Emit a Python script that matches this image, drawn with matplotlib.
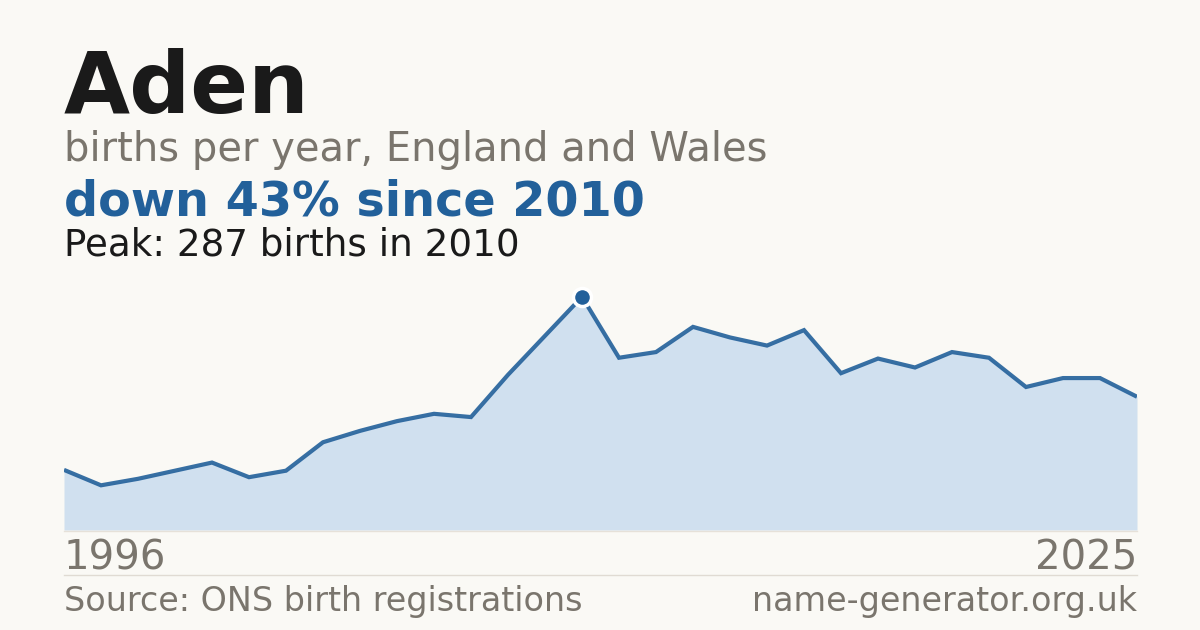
import numpy as np
import matplotlib
matplotlib.use("Agg")
import matplotlib.pyplot as plt
from matplotlib.lines import Line2D

# Births per year for the name
years = list(range(1996, 2026))
births = [74, 55, 63, 73, 83, 65, 73, 108, 122, 134, 143, 139, 191, 239, 287,
          212, 219, 250, 237, 227, 246, 193, 211, 200, 219, 212, 176, 187, 187, 164]

title = "Aden"
subtitle = "births per year, England and Wales"
headline = "down 43% since 2010"
peak_note = "Peak: 287 births in 2010"
source = "Source: ONS birth registrations"
site = "name-generator.org.uk"

BG = "#faf9f5"
BLUE = "#22609a"
FILL = "#d0e0ef"
GREY = "#7a756d"
INK = "#1a1a1a"

W, H = 1200, 630
fig = plt.figure(figsize=(W / 100, H / 100), dpi=100, facecolor=BG)
plt.rcParams["font.family"] = ["DejaVu Sans"]

# plot area in pixels: left 64, right 1137, bottom 530, top 270
left, right, bottom, top = 64, 1137, 530, 270
ax = fig.add_axes([left / W, 1 - bottom / H, (right - left) / W, (bottom - top) / H])
ax.set_facecolor(BG)
ax.fill_between(years, births, 0, color=FILL, lw=0)
ax.plot(years, births, color=BLUE, lw=3.0, solid_joinstyle="miter", solid_capstyle="butt", alpha=0.9)
ipk = int(np.argmax(births))
ax.plot(years[ipk], births[ipk], marker="o", ms=13, color=BLUE, mec="white", mew=2.5)
ax.set_xlim(years[0], years[-1])
ax.set_ylim(0, 320)
ax.axis("off")
ax.margins(0)

def px(x, y):
    return x / W, 1 - y / H

fig.text(*px(64, 113), title, fontsize=61.5, fontweight="bold", color=INK, va="baseline")
fig.text(*px(64, 161), subtitle, fontsize=28.8, color=GREY, va="baseline")
fig.text(*px(64, 215), headline, fontsize=34.4, fontweight="bold", color=BLUE, va="baseline")
fig.text(*px(64, 255), peak_note, fontsize=26.8, color=INK, va="baseline")
fig.text(*px(64, 569), str(years[0]), fontsize=29, color=GREY, va="baseline")
fig.text(*px(1137, 569), str(years[-1]), fontsize=29, color=GREY, va="baseline", ha="right")
fig.text(*px(64, 611), source, fontsize=24, color=GREY, va="baseline")
fig.text(*px(1137, 611), site, fontsize=24, color=GREY, va="baseline", ha="right")

fig.add_artist(Line2D([64 / W, 1137 / W], [1 - 574.5 / H] * 2, color="#e0dbd3", lw=1))
fig.add_artist(Line2D([64 / W, 1137 / W], [1 - 530.5 / H] * 2, color="#e6e1d9", lw=1))

fig.savefig("out.png", dpi=100, facecolor=BG)
